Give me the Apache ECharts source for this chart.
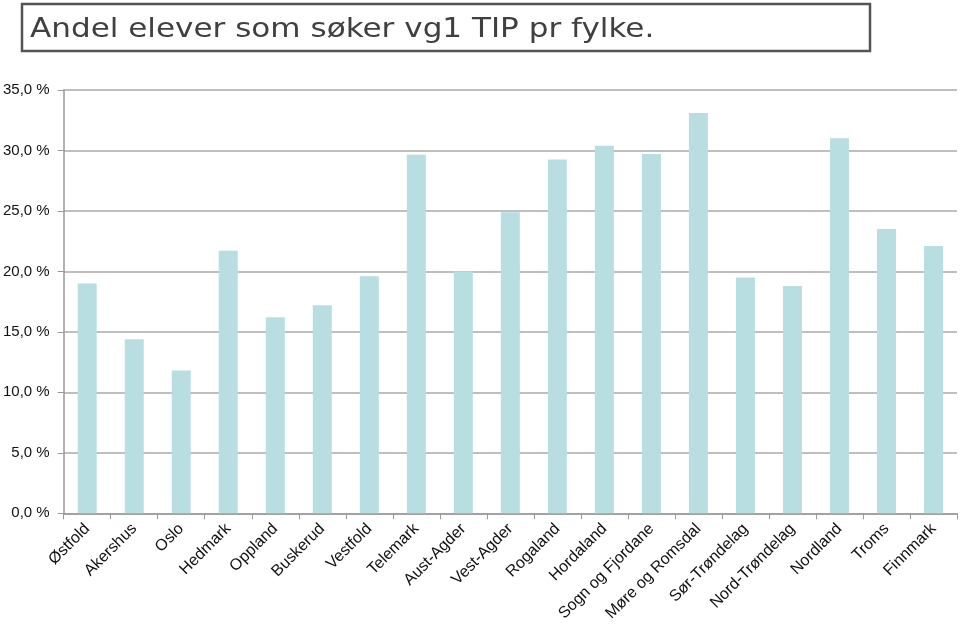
<!DOCTYPE html>
<html><head><meta charset="utf-8">
<script src="https://cdn.jsdelivr.net/npm/echarts@6/dist/echarts.min.js"></script>
<style>html,body{margin:0;padding:0;background:#fff}#c{width:960px;height:624px}</style>
</head><body><div id="c"></div>
<script>
const categories = ["Østfold","Akershus","Oslo","Hedmark","Oppland","Buskerud","Vestfold","Telemark","Aust-Agder","Vest-Agder","Rogaland","Hordaland","Sogn og Fjordane","Møre og Romsdal","Sør-Trøndelag","Nord-Trøndelag","Nordland","Troms","Finnmark"];
const values = [19.0,14.4,11.8,21.7,16.2,17.2,19.6,29.65,20.0,24.9,29.25,30.4,29.7,33.1,19.5,18.8,31.0,23.5,22.1];
const titleText = "Andel elever som søker vg1 TIP pr fylke.";
const chart = echarts.init(document.getElementById('c'));
chart.setOption({
  animation:false,
  backgroundColor:'#fff',
  graphic:[
    {type:'rect', shape:{x:22,y:4,width:848,height:47}, style:{fill:'#fff',stroke:'#555',lineWidth:2.5}},
    {type:'text', x:30, y:16, scaleX:1.15, style:{text:titleText, x:0, y:0, fill:'#404040', font:'27px "DejaVu Sans", Verdana, sans-serif'}}
  ],
  grid:{left:62, right:3, top:90, bottom:109, containLabel:false},
  xAxis:{type:'category', data:categories,
    axisLine:{lineStyle:{color:'#999',width:1.5}},
    axisTick:{show:true,length:6,lineStyle:{color:'#999'}},
    axisLabel:{rotate:45, interval:0, color:'#111', fontSize:16, fontFamily:'"Liberation Sans", Arial, sans-serif', margin:13}
  },
  yAxis:{type:'value', min:0, max:35, interval:5,
    axisLine:{show:true, lineStyle:{color:'#999',width:1.5}},
    axisTick:{show:true,length:6,inside:false,lineStyle:{color:'#999'}},
    splitLine:{lineStyle:{color:'#aaa',width:1.5}},
    axisLabel:{color:'#111', fontSize:15, fontFamily:'"Liberation Sans", Arial, sans-serif', margin:14,
      formatter:v=>v.toFixed(1).replace('.',',')+' %'}
  },
  series:[{type:'bar', data:values, barWidth:19, itemStyle:{color:'#b8dee2'}}]
});
</script></body></html>
